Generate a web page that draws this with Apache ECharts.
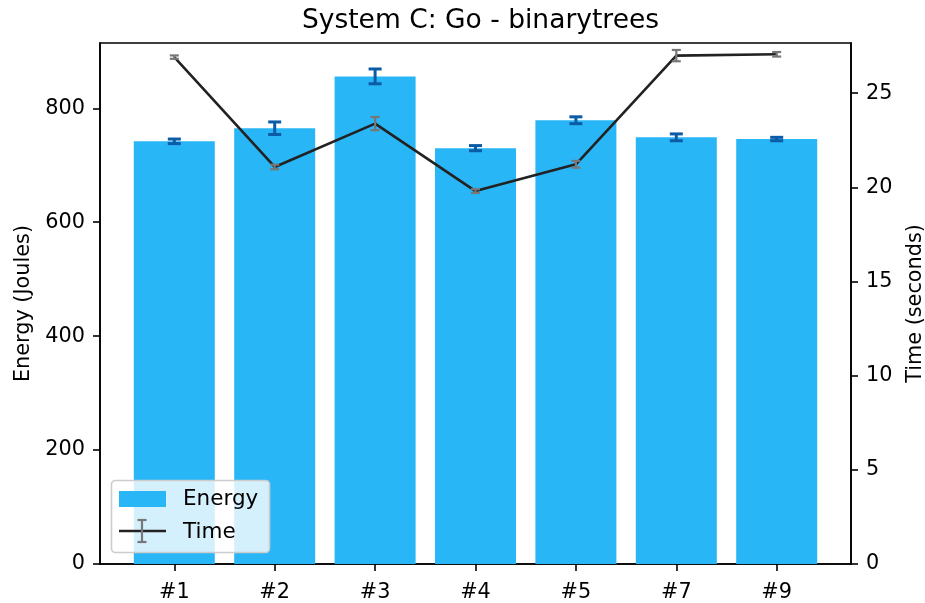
<!DOCTYPE html>
<html>
<head>
<meta charset="utf-8">
<script src="https://cdn.jsdelivr.net/npm/echarts@6/dist/echarts.min.js"></script>
<style>
html,body{margin:0;padding:0;background:#fff;}
#chart{width:925px;height:603px;}
</style>
</head>
<body>
<div id="chart"></div>
<script>
const categories = ['#1', '#2', '#3', '#4', '#5', '#7', '#9'];
const energy = [742, 765, 856, 730, 779, 749, 746];
const energyErr = [4, 11, 13, 4.5, 6, 6, 3];
const time = [26.91, 21.08, 23.38, 19.80, 21.22, 26.99, 27.06];
const timeErr = [0.09, 0.12, 0.35, 0.1, 0.18, 0.3, 0.12];
const energyTicks = [0, 200, 400, 600, 800];
const timeTicks = [0, 5, 10, 15, 20, 25];

const FONT = 'DejaVu Sans';
const FS = 20.8;
const idx = categories.map((c, i) => i);

function errRenderer(color, capW, lw) {
  return function (params, api) {
    const x = api.value(0), lo = api.value(1), hi = api.value(2);
    const a = api.coord([x, lo]), b = api.coord([x, hi]);
    const h = capW / 2;
    const st = { stroke: color, lineWidth: lw };
    return {
      type: 'group',
      children: [
        { type: 'line', shape: { x1: a[0], y1: a[1], x2: b[0], y2: b[1] }, style: st },
        { type: 'line', shape: { x1: a[0] - h, y1: a[1], x2: a[0] + h, y2: a[1] }, style: st },
        { type: 'line', shape: { x1: b[0] - h, y1: b[1], x2: b[0] + h, y2: b[1] }, style: st }
      ]
    };
  };
}

const chart = echarts.init(document.getElementById('chart'), null, { renderer: 'canvas' });
const option = {
  backgroundColor: '#fff',
  animation: false,
  textStyle: { fontFamily: FONT },
  title: {
    text: 'System C: Go - binarytrees',
    left: 475.5, textAlign: 'center', top: 3,
    textStyle: { fontFamily: FONT, fontSize: 26.5, fontWeight: 'normal', color: '#000' }
  },
  grid: {
    left: 100, top: 43, width: 751, height: 521,
    outerBoundsMode: 'none', containLabel: false,
    show: true, borderColor: '#000', borderWidth: 1.6, backgroundColor: 'transparent'
  },
  xAxis: {
    type: 'value', min: -0.74, max: 6.74,
    splitLine: { show: false },
    axisLine: { show: true, onZero: false, lineStyle: { color: '#000', width: 1.6 } },
    axisTick: { show: true, customValues: idx, length: 7, lineStyle: { color: '#000', width: 1.6 } },
    axisLabel: {
      customValues: idx, margin: 18, color: '#000', fontSize: FS, fontFamily: FONT,
      formatter: v => categories[Math.round(v)]
    }
  },
  yAxis: [
    {
      type: 'value', min: 0, max: 914.6, position: 'left',
      name: 'Energy (Joules)', nameLocation: 'middle', nameGap: 66,
      nameTextStyle: { fontSize: FS, fontFamily: FONT, color: '#000' },
      splitLine: { show: false },
      axisLine: { show: true, onZero: false, lineStyle: { color: '#000', width: 1.6 } },
      axisTick: { show: true, customValues: energyTicks, length: 7, lineStyle: { color: '#000', width: 1.6 } },
      axisLabel: { customValues: energyTicks, margin: 15, color: '#000', fontSize: FS, fontFamily: FONT }
    },
    {
      type: 'value', min: 0, max: 27.66, position: 'right',
      name: 'Time (seconds)', nameLocation: 'middle', nameGap: 54,
      nameTextStyle: { fontSize: FS, fontFamily: FONT, color: '#000' },
      splitLine: { show: false },
      axisLine: { show: true, onZero: false, lineStyle: { color: '#000', width: 1.6 } },
      axisTick: { show: true, customValues: timeTicks, length: 7, lineStyle: { color: '#000', width: 1.6 } },
      axisLabel: { customValues: timeTicks, margin: 15, color: '#000', fontSize: FS, fontFamily: FONT }
    }
  ],
  series: [
    {
      name: 'Energy', type: 'bar', yAxisIndex: 0, barWidth: 81, z: 2,
      itemStyle: { color: '#29b6f6' },
      data: idx.map(i => [i, energy[i]])
    },
    {
      name: 'EnergyErr', type: 'custom', yAxisIndex: 0, z: 3,
      renderItem: errRenderer('#0b5ba6', 13, 3),
      data: idx.map(i => [i, energy[i] - energyErr[i], energy[i] + energyErr[i]])
    },
    {
      name: 'Time', type: 'line', yAxisIndex: 1, z: 4,
      symbol: 'none',
      lineStyle: { color: '#222', width: 2.6 },
      data: idx.map(i => [i, time[i]])
    },
    {
      name: 'TimeErr', type: 'custom', yAxisIndex: 1, z: 5,
      renderItem: errRenderer('#777', 9, 2.2),
      data: idx.map(i => [i, time[i] - timeErr[i], time[i] + timeErr[i]])
    }
  ],
  graphic: [
    { type: 'rect', z: 100, shape: { x: 111.5, y: 480.5, width: 158, height: 72, r: 4 },
      style: { fill: 'rgba(255,255,255,0.8)', stroke: '#cccccc', lineWidth: 1.6 } },
    { type: 'rect', z: 101, shape: { x: 119, y: 491, width: 47, height: 16 },
      style: { fill: '#29b6f6' } },
    { type: 'text', z: 101, x: 183, y: 499,
      style: { text: 'Energy', fill: '#000', font: '21.5px "DejaVu Sans"', verticalAlign: 'middle' } },
    { type: 'line', z: 101, shape: { x1: 119, y1: 531, x2: 166, y2: 531 },
      style: { stroke: '#222', lineWidth: 2.6 } },
    { type: 'line', z: 102, shape: { x1: 142, y1: 520, x2: 142, y2: 542 },
      style: { stroke: '#777', lineWidth: 2.2 } },
    { type: 'line', z: 102, shape: { x1: 137.5, y1: 520, x2: 146.5, y2: 520 },
      style: { stroke: '#777', lineWidth: 2.2 } },
    { type: 'line', z: 102, shape: { x1: 137.5, y1: 542, x2: 146.5, y2: 542 },
      style: { stroke: '#777', lineWidth: 2.2 } },
    { type: 'text', z: 101, x: 183, y: 532,
      style: { text: 'Time', fill: '#000', font: '21.5px "DejaVu Sans"', verticalAlign: 'middle' } }
  ]
};
chart.setOption(option);
</script>
</body>
</html>
